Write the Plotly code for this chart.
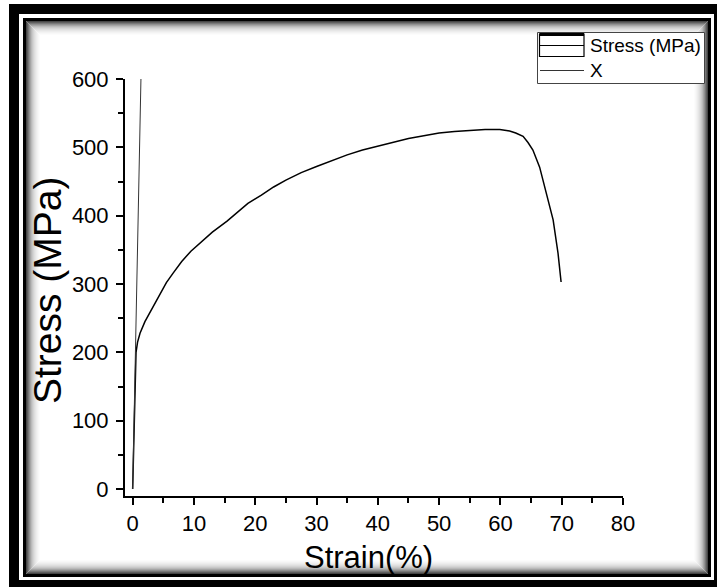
import plotly.graph_objects as go

# ---- data ----
strain = [0, 0.2, 0.4, 0.55, 0.8, 1.2, 2.0, 2.8, 3.5, 4.5, 5.5, 6.6, 8, 9.5, 11, 13,
          15.4, 17, 18.8, 21, 23, 25, 27.5, 30, 32.5, 35, 37.5, 40, 42.5, 45, 47.5,
          50, 52.5, 55, 57.5, 59.9, 61.5, 62.5, 63.7, 64.5, 65.3, 66.4, 67.5, 68.6,
          69.4, 69.9]
stress = [0, 80, 160, 200, 215, 228, 245, 258, 270, 287, 302, 316, 333, 348, 360, 376,
          392, 404, 418, 430, 442, 452, 463, 472, 481, 489, 496, 502, 508, 513, 517,
          521, 523, 525, 526, 526, 524, 521, 516, 507, 496, 471, 433, 394,
          345, 303]
x_line_strain = [0.0, 1.35]
x_line_stress = [0, 600]
series_names = ["Stress (MPa)", "X"]

x_ticks = [0, 10, 20, 30, 40, 50, 60, 70, 80]
y_ticks = [0, 100, 200, 300, 400, 500, 600]

W, H = 717, 587
L, R, T, B = 125, 94, 79, 91
PW, PH = W - L - R, H - T - B


def px(x):
    return (x - L) / PW


def py(y):
    return (H - B - y) / PH


fig = go.Figure()
fig.add_trace(go.Scatter(x=strain, y=stress, mode="lines", name=series_names[0],
                         showlegend=False, line=dict(color="black", width=1.5)))
fig.add_trace(go.Scatter(x=x_line_strain, y=x_line_stress, mode="lines", name=series_names[1],
                         showlegend=False, line=dict(color="#333333", width=1)))

shapes = []


def rect(x0, y0, x1, y1, **kw):
    shapes.append(dict(type="rect", xref="paper", yref="paper",
                       x0=px(x0), x1=px(x1), y0=py(y1), y1=py(y0), **kw))


def hline(x0, x1, y, **kw):
    shapes.append(dict(type="line", xref="paper", yref="paper",
                       x0=px(x0), x1=px(x1), y0=py(y), y1=py(y), **kw))


# outer black frame bands
rect(9, 4, 717, 14, fillcolor="black", line_width=0, layer="below")
rect(9, 4, 19, 587, fillcolor="black", line_width=0, layer="below")
rect(714, 4, 717, 587, fillcolor="black", line_width=0, layer="below")
rect(9, 580, 717, 587, fillcolor="black", line_width=0, layer="below")
# inner black line
rect(23, 18, 711, 21, fillcolor="black", line_width=0, layer="below")
rect(23, 18, 26, 577, fillcolor="black", line_width=0, layer="below")
rect(708, 18, 711, 577, fillcolor="black", line_width=0, layer="below")
rect(23, 574, 711, 577, fillcolor="black", line_width=0, layer="below")
# inner shadow gradient
grays = [70, 95, 120, 145, 165, 185, 200, 212, 222, 230, 237, 243, 248, 252]
for k, g in enumerate(grays):
    o = k + 0.5
    rect(26 + o, 21 + o, 708 - o, 574 - o,
         line=dict(color=f"rgb({g},{g},{g})", width=1), layer="below")

# legend box (Origin style)
rect(537.5, 32.5, 704.5, 83.5, fillcolor="white", line=dict(color="#444444", width=1), layer="above")
rect(539.5, 34, 584, 56.5, fillcolor="white", line=dict(color="black", width=1.2), layer="above")
hline(539.5, 584, 34.5, line=dict(color="black", width=3), layer="above")
hline(539.5, 584, 45.5, line=dict(color="black", width=1.2), layer="above")
hline(540, 584, 70.5, line=dict(color="#333333", width=1), layer="above")

fig.update_layout(
    width=W, height=H,
    margin=dict(l=L, r=R, t=T, b=B),
    paper_bgcolor="white", plot_bgcolor="rgba(0,0,0,0)",
    font=dict(family="Liberation Sans, Arial, sans-serif", color="black"),
    shapes=shapes,
    showlegend=False,
    xaxis=dict(range=[-1.25, 80], tickvals=x_ticks, showgrid=False, zeroline=False,
               showline=True, linecolor="black", linewidth=2,
               ticks="outside", ticklen=7, tickwidth=2, tickcolor="black",
               minor=dict(dtick=5, ticks="outside", ticklen=5, tickwidth=2, tickcolor="black"),
               tickfont=dict(size=22)),
    yaxis=dict(range=[-10.2, 600], tickvals=y_ticks, showgrid=False, zeroline=False,
               showline=True, linecolor="black", linewidth=2,
               ticks="outside", ticklen=7, tickwidth=2, tickcolor="black",
               minor=dict(dtick=50, ticks="outside", ticklen=5, tickwidth=2, tickcolor="black"),
               tickfont=dict(size=22), ticklabelstandoff=3),
    annotations=[
        dict(text="Stress (MPa)", xref="paper", yref="paper", x=px(47), y=py(290),
             xanchor="center", yanchor="middle", textangle=-90, showarrow=False,
             font=dict(size=39)),
        dict(text="Strain(%)", xref="paper", yref="paper", x=px(368), y=py(557),
             xanchor="center", yanchor="middle", showarrow=False,
             font=dict(size=31)),
        dict(text=series_names[0], xref="paper", yref="paper", x=px(588), y=py(45),
             xanchor="left", yanchor="middle", showarrow=False,
             font=dict(size=19)),
        dict(text=series_names[1], xref="paper", yref="paper", x=px(588), y=py(71),
             xanchor="left", yanchor="middle", showarrow=False,
             font=dict(size=19)),
    ],
)

fig.write_html("out.html")
